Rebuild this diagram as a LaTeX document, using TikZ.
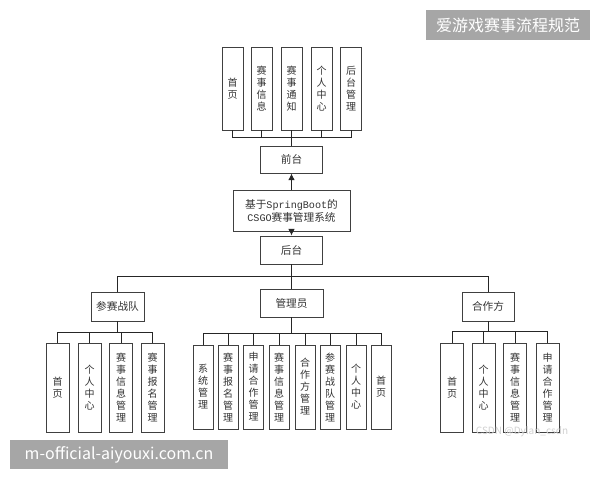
\documentclass[tikz,border=0pt]{standalone}
\usepackage{fontspec}
\setmainfont{Noto Sans CJK SC}
\newfontfamily\latm{Liberation Mono}[Scale=0.95]
\usetikzlibrary{arrows.meta}
\begin{document}
\begin{tikzpicture}[x=0.75pt,y=-0.75pt,
  every node/.style={font=\fontsize{7.5}{9}\selectfont, text=black!80, inner sep=0pt, align=center},
  box/.style={draw=black!75, line width=0.7pt, fill=white},
  topv/.style={box, minimum width=15.75pt, minimum height=62.25pt},
  av/.style={box, minimum width=17.25pt, minimum height=66.75pt},
  bv/.style={box, minimum width=15pt, minimum height=63pt},
  hb/.style={box, font=\fontsize{8}{9.75}\selectfont},
  link/.style={draw=black!85, line width=0.7pt},
  arr/.style={link, -{Latex[length=5pt,width=5pt]}},
  wm/.style={fill=black!35, text=white, inner sep=0pt}
]
\useasboundingbox (0,0) rectangle (600,480);
\fill[white] (0,0) rectangle (600,480);

% top group
\node[topv] (t1) at (232.5,88.5) {首\\页};
\node[topv] (t2) at (261.5,88.5) {赛\\事\\信\\息};
\node[topv] (t3) at (291.5,88.5) {赛\\事\\通\\知};
\node[topv] (t4) at (321.5,88.5) {个\\人\\中\\心};
\node[topv] (t5) at (351,88.5) {后\\台\\管\\理};
\node[hb, minimum width=46.5pt, minimum height=20.25pt] (qian) at (291.5,159.5) {前台};
\node[hb, minimum width=87.75pt, minimum height=30.75pt] (sys) at (291.5,210.5) {基于{\latm SpringBoot}的\\{\latm CSGO}赛事管理系统};
\node[hb, minimum width=46.5pt, minimum height=21pt] (hou) at (291.5,250) {后台};

\coordinate (tb) at (291.5,137);
\foreach \n in {t1,t2,t3,t4,t5} \draw[link] (\n.south) |- (tb);
\draw[link] (qian.north) -- (tb);
\draw[arr] (sys.north) -- (qian.south);
\draw[arr] (sys.south) -- (hou.north);

% second level
\node[hb, minimum width=39.75pt, minimum height=21.75pt] (ga) at (117.5,306.5) {参赛战队};
\node[hb, minimum width=47.25pt, minimum height=21pt] (gb) at (291.5,303) {管理员};
\node[hb, minimum width=39pt, minimum height=21.75pt] (gc) at (488,306.5) {合作方};
\coordinate (mb) at (291.5,276);
\draw[link] (hou.south) -- (mb);
\draw[link] (ga.north) |- (mb);
\draw[link] (gc.north) |- (mb);
\draw[link] (gb.north) -- (mb);

% group A
\node[av] (a1) at (57.5,387.5) {首\\页};
\node[av] (a2) at (89.5,387.5) {个\\人\\中\\心};
\node[av] (a3) at (121,387.5) {赛\\事\\信\\息\\管\\理};
\node[av] (a4) at (152.5,387.5) {赛\\事\\报\\名\\管\\理};
\coordinate (sa) at (117.5,332);
\draw[link] (ga.south) -- (sa);
\foreach \n in {a1,a2,a3,a4} \draw[link] (\n.north) |- (sa);

% group B
\node[bv] (b1) at (203,387) {系\\统\\管\\理};
\node[bv] (b2) at (228,387) {赛\\事\\报\\名\\管\\理};
\node[bv] (b3) at (253.5,387) {申\\请\\合\\作\\管\\理};
\node[bv] (b4) at (279,387) {赛\\事\\信\\息\\管\\理};
\node[bv] (b5) at (305,387) {合\\作\\方\\管\\理};
\node[bv] (b6) at (330,387) {参\\赛\\战\\队\\管\\理};
\node[bv] (b7) at (356,387) {个\\人\\中\\心};
\node[bv] (b8) at (381,387) {首\\页};
\coordinate (sb) at (291.5,333);
\draw[link] (gb.south) -- (sb);
\foreach \n in {b1,b2,b3,b4,b5,b6,b7,b8} \draw[link] (\n.north) |- (sb);

% group C
\node[av] (c1) at (452,387.5) {首\\页};
\node[av] (c2) at (483.5,387.5) {个\\人\\中\\心};
\node[av] (c3) at (515,387.5) {赛\\事\\信\\息\\管\\理};
\node[av] (c4) at (547.5,387.5) {申\\请\\合\\作\\管\\理};
\coordinate (sc) at (488,331);
\draw[link] (gc.south) -- (sc);
\foreach \n in {c1,c2,c3,c4} \draw[link] (\n.north) |- (sc);

% watermarks
\node[text=black!18, font=\fontsize{7.5}{9}\selectfont] (csdn) at (522,432) {CSDN @Dylan\_csdn};
\node[wm, minimum width=123pt, minimum height=22.5pt, font=\fontsize{12}{14}\selectfont] (wm1) at (508,25) {爱游戏赛事流程规范};
\node[wm, minimum width=163.5pt, minimum height=21.75pt, font=\fontsize{12}{14}\selectfont] (wm2) at (119,454.5) {m-official-aiyouxi.com.cn};
\end{tikzpicture}
\end{document}
